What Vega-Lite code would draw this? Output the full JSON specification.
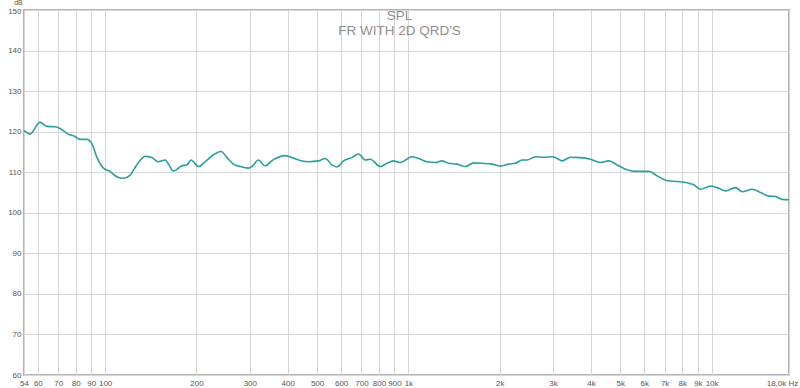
{
  "$schema": "https://vega.github.io/schema/vega-lite/v6.json",
  "width": 765,
  "height": 365,
  "autosize": {"type": "none"},
  "padding": {"left": 24, "top": 10, "right": 11, "bottom": 13},
  "background": "white",
  "view": {"stroke": "#b4b4b4", "strokeWidth": 2},
  "title": {
    "text": ["SPL", "FR WITH 2D QRD'S"],
    "anchor": "middle",
    "orient": "top",
    "offset": -39,
    "dx": -7,
    "font": "Liberation Sans",
    "fontSize": 13.5,
    "fontWeight": "normal",
    "color": "#8e8e8e",
    "lineHeight": 15
  },
  "data": {
    "values": [
      {"f": 54, "db": 120.3},
      {"f": 56.5, "db": 119.4},
      {"f": 61.0, "db": 122.3},
      {"f": 64.2, "db": 121.3},
      {"f": 68.4, "db": 121.2},
      {"f": 71.0, "db": 120.8},
      {"f": 75.6, "db": 119.4},
      {"f": 79.6, "db": 118.8},
      {"f": 82.6, "db": 118.1},
      {"f": 86.9, "db": 118.1},
      {"f": 90.3, "db": 117.1},
      {"f": 93.8, "db": 113.8},
      {"f": 98.7, "db": 111.0},
      {"f": 103.8, "db": 110.2},
      {"f": 109.2, "db": 108.9},
      {"f": 114.9, "db": 108.5},
      {"f": 120.9, "db": 109.3},
      {"f": 127.1, "db": 111.8},
      {"f": 135.4, "db": 113.9},
      {"f": 142.5, "db": 113.6},
      {"f": 149.9, "db": 112.6},
      {"f": 157.7, "db": 113.0},
      {"f": 161.7, "db": 112.0},
      {"f": 168.0, "db": 110.3},
      {"f": 179.0, "db": 111.6},
      {"f": 185.9, "db": 111.8},
      {"f": 192.1, "db": 113.0},
      {"f": 203.1, "db": 111.4},
      {"f": 213.7, "db": 112.6},
      {"f": 227.6, "db": 114.3},
      {"f": 241.3, "db": 115.1},
      {"f": 252.0, "db": 113.6},
      {"f": 265.0, "db": 112.0},
      {"f": 278.8, "db": 111.4},
      {"f": 297.0, "db": 111.0},
      {"f": 304.7, "db": 111.4},
      {"f": 320.4, "db": 113.0},
      {"f": 337.1, "db": 111.6},
      {"f": 359.0, "db": 113.1},
      {"f": 392.4, "db": 114.1},
      {"f": 412.9, "db": 113.6},
      {"f": 439.7, "db": 112.9},
      {"f": 468.6, "db": 112.6},
      {"f": 505.5, "db": 112.8},
      {"f": 531.8, "db": 113.4},
      {"f": 559.5, "db": 111.8},
      {"f": 581.5, "db": 111.3},
      {"f": 611.3, "db": 112.8},
      {"f": 651.4, "db": 113.6},
      {"f": 685.0, "db": 114.5},
      {"f": 721.0, "db": 113.0},
      {"f": 748.9, "db": 113.2},
      {"f": 807.7, "db": 111.4},
      {"f": 849.8, "db": 112.2},
      {"f": 893.6, "db": 112.8},
      {"f": 940.6, "db": 112.4},
      {"f": 1027.7, "db": 113.8},
      {"f": 1080.6, "db": 113.4},
      {"f": 1151.9, "db": 112.6},
      {"f": 1226.9, "db": 112.4},
      {"f": 1291, "db": 112.8},
      {"f": 1357, "db": 112.2},
      {"f": 1447, "db": 112.0},
      {"f": 1541, "db": 111.4},
      {"f": 1642, "db": 112.3},
      {"f": 1750, "db": 112.2},
      {"f": 1888, "db": 112.0},
      {"f": 2011, "db": 111.5},
      {"f": 2142, "db": 112.0},
      {"f": 2254, "db": 112.2},
      {"f": 2372, "db": 113.0},
      {"f": 2463, "db": 113.0},
      {"f": 2624, "db": 113.8},
      {"f": 2794, "db": 113.7},
      {"f": 2979, "db": 113.8},
      {"f": 3094, "db": 113.4},
      {"f": 3214, "db": 112.8},
      {"f": 3423, "db": 113.7},
      {"f": 3693, "db": 113.6},
      {"f": 3985, "db": 113.2},
      {"f": 4299, "db": 112.4},
      {"f": 4580, "db": 112.8},
      {"f": 4882, "db": 111.8},
      {"f": 5266, "db": 110.6},
      {"f": 5609, "db": 110.2},
      {"f": 6205, "db": 110.2},
      {"f": 6616, "db": 109.1},
      {"f": 7139, "db": 107.9},
      {"f": 7702, "db": 107.7},
      {"f": 8310, "db": 107.4},
      {"f": 8737, "db": 106.9},
      {"f": 9192, "db": 105.8},
      {"f": 9918, "db": 106.6},
      {"f": 10440, "db": 106.2},
      {"f": 11118, "db": 105.4},
      {"f": 11995, "db": 106.2},
      {"f": 12621, "db": 105.2},
      {"f": 13615, "db": 105.8},
      {"f": 14500, "db": 105.0},
      {"f": 15443, "db": 104.1},
      {"f": 16256, "db": 104.0},
      {"f": 17100, "db": 103.3},
      {"f": 18000, "db": 103.2}
    ]
  },
  "mark": {"type": "line", "interpolate": "monotone", "color": "#2a9f9c", "strokeWidth": 1.6, "clip": true},
  "encoding": {
    "x": {
      "field": "f",
      "type": "quantitative",
      "scale": {"type": "log", "domain": [54, 18000], "nice": false},
      "axis": {
        "title": null,
        "values": [54, 60, 70, 80, 90, 100, 200, 300, 400, 500, 600, 700, 800, 900, 1000, 2000, 3000, 4000, 5000, 6000, 7000, 8000, 9000, 10000, 18000],
        "labelExpr": "datum.value == 18000 ? '18,0k Hz' : (datum.value >= 1000 ? (datum.value / 1000) + 'k' : datum.value + '')",
        "labelOffset": {"condition": {"test": "datum.value == 18000", "value": -7}, "value": 0},
        "labelFont": "Liberation Sans",
        "labelFontSize": 8,
        "labelColor": "#555555",
        "labelPadding": 4,
        "labelOverlap": false,
        "labelFlush": false,
        "ticks": false,
        "domain": false,
        "grid": true,
        "gridColor": "#d6d6d6",
        "gridWidth": 1
      }
    },
    "y": {
      "field": "db",
      "type": "quantitative",
      "scale": {"domain": [60, 150], "nice": false},
      "axis": {
        "title": "dB",
        "titleAngle": 0,
        "titleX": -6,
        "titleY": -6,
        "titleAlign": "center",
        "titleBaseline": "alphabetic",
        "titleFont": "Liberation Sans",
        "titleFontSize": 7,
        "titleFontWeight": "normal",
        "titleColor": "#555555",
        "values": [60, 70, 80, 90, 100, 110, 120, 130, 140, 150],
        "labelFont": "Liberation Sans",
        "labelFontSize": 8,
        "labelColor": "#555555",
        "labelPadding": 3,
        "labelOffset": {"condition": {"test": "datum.value == 150", "value": 1}, "value": 0},
        "ticks": false,
        "domain": false,
        "grid": true,
        "gridColor": "#d6d6d6",
        "gridWidth": 1
      }
    }
  }
}
